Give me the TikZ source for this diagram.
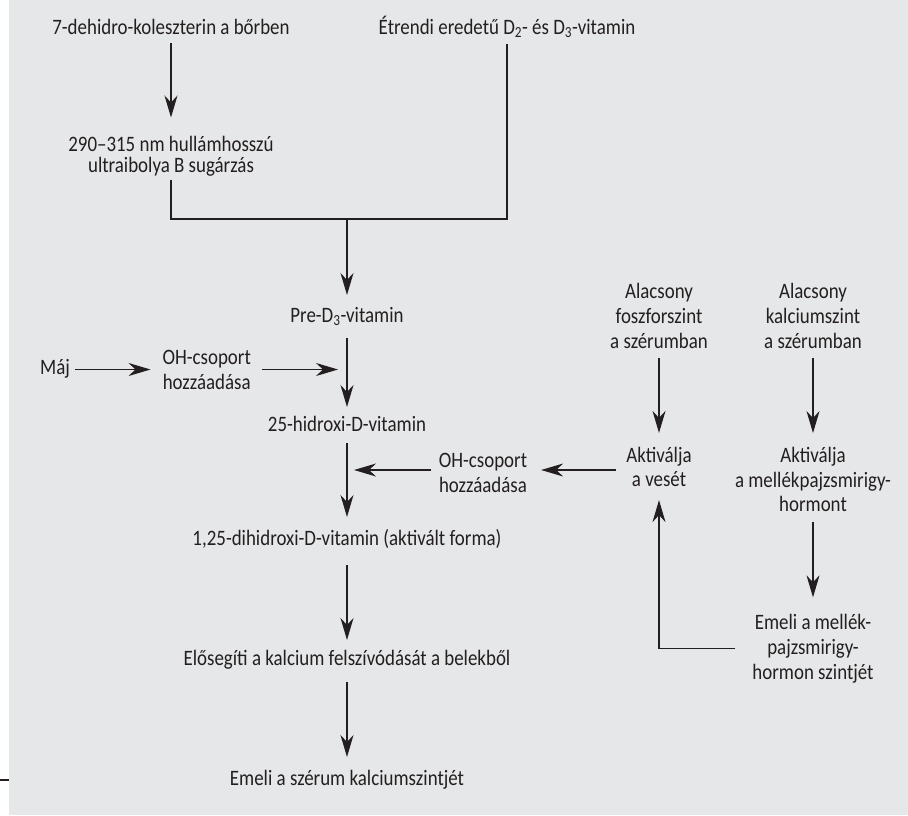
\documentclass[tikz,border=0pt]{standalone}
\usepackage{fontspec}
\setmainfont{Carlito}[FakeStretch=0.86]
\usetikzlibrary{arrows.meta,calc}
\definecolor{bg}{HTML}{E6E7E8}
\definecolor{ink}{HTML}{231F20}
\begin{document}
\begin{tikzpicture}[x=1pt,y=-1pt,
  txt/.style={inner sep=0pt, outer sep=0pt, text=ink, font=\fontsize{22}{24.75}\selectfont},
  one/.style={txt, text height=15pt, text depth=5pt},
  multi/.style={txt, align=center},
  link/.style={draw=ink, line width=1.2pt},
  arr/.style={link, -{Stealth[length=22pt,width=13pt,inset=7pt]}},
]
\fill[white] (0,0) rectangle (908,815);
\fill[bg] (9,0) rectangle (908,815);
\useasboundingbox (0,0) rectangle (908,815);
\draw[link] (0,780) -- (9,780);

\node[one] (deh) at (171,29) {7-dehidro-koleszterin a bőrben};
\node[one] (etr) at (507,29) {Étrendi eredetű D\textsubscript{2}- és D\textsubscript{3}-vitamin};
\node[multi, font=\fontsize{22}{21}\selectfont] (uv) at (171,156.5) {290–315 nm hullámhosszú\\ultraibolya B sugárzás};
\coordinate (m) at (347,219);
\node[one] (pre) at (347,317) {Pre-D\textsubscript{3}-vitamin};
\node[one] (maj) at (55,369.5) {Máj};
\node[multi] (ohl) at (206.7,370.25) {OH-csoport\\hozzáadása};
\coordinate (j1) at (347,369.5);
\node[one] (h25) at (347,426) {25-hidroxi-D-vitamin};
\coordinate (j2) at (347,470);
\node[multi] (ohr) at (483,472.7) {OH-csoport\\hozzáadása};
\node[one] (d125) at (347,540) {1,25-dihidroxi-D-vitamin (aktivált forma)};
\node[one] (elo) at (347,660) {Elősegíti a kalcium felszívódását a belekből};
\node[one] (eme) at (347,780) {Emeli a szérum kalciumszintjét};
\node[multi] (alf) at (659,315.7) {Alacsony\\foszforszint\\a szérumban};
\node[multi] (alk) at (813,315.7) {Alacsony\\kalciumszint\\a szérumban};
\node[multi] (akv) at (659,467) {Aktiválja\\a vesét};
\node[multi] (akm) at (813,479.5) {Aktiválja\\a mellékpajzsmirigy-\\hormont};
\node[multi] (emm) at (813,648.6) {Emeli a mellék-\\pajzsmirigy-\\hormon szintjét};

\draw[arr, shorten <=4pt, shorten >=19pt] (deh) -- (uv);
\draw[link, shorten <=3pt, shorten >=5pt] (uv.south) |- (m) -| (etr.south);
\draw[arr, shorten >=12pt] (m) -- (pre);
\draw[arr, shorten <=11pt, shorten >=9pt] (pre) -- (h25);
\draw[arr, shorten <=5pt, shorten >=12pt] (maj.east) -- (ohl.west |- maj.east);
\draw[arr, shorten <=11pt, shorten >=9pt] (ohl.east |- j1) -- (j1);
\draw[arr, shorten <=7pt, shorten >=13pt] (h25) -- (d125);
\draw[arr, shorten <=8pt, shorten >=7pt] (ohr.west |- j2) -- (j2);
\draw[arr, shorten <=10pt, shorten >=14pt] (akv.west |- j2) -- (ohr.east |- j2);
\draw[arr, shorten <=10pt, shorten >=14pt] (alf) -- (akv);
\draw[arr, shorten <=10pt, shorten >=14pt] (alk) -- (akm);
\draw[arr, shorten <=10pt, shorten >=17pt] (akm) -- (emm);
\draw[arr, shorten <=17pt, shorten >=13pt] (emm.west) -| (akv.south);
\draw[arr, shorten <=15pt, shorten >=10pt] (d125) -- (elo);
\draw[arr, shorten <=12pt, shorten >=13pt] (elo) -- (eme);
\end{tikzpicture}
\end{document}
